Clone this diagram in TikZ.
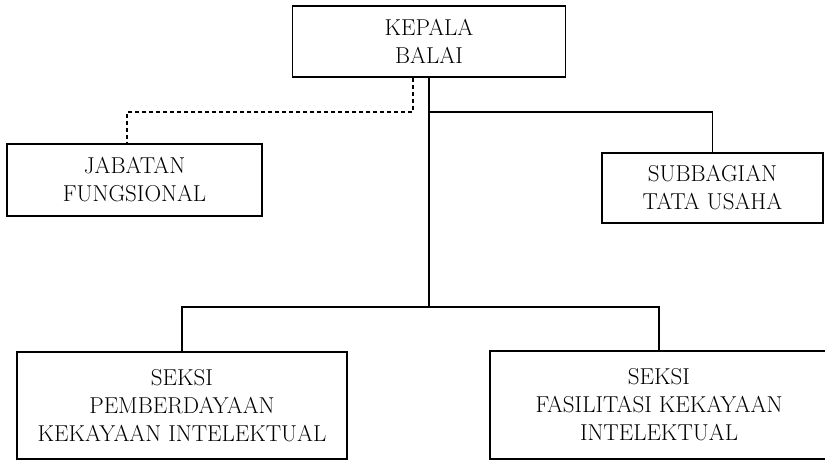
\documentclass[tikz,border=0pt]{standalone}
\usetikzlibrary{calc}
\begin{document}
\begin{tikzpicture}[x=1pt,y=-1pt,line width=1.2pt,line join=miter,
	kotak/.style={draw,align=center,inner sep=0pt,font=\fontsize{23}{28}\selectfont},
	garis putus/.style={dash pattern=on 4pt off 3pt}]
		\useasboundingbox (0,0) rectangle (825,460);
		% kotak-kotak
		\node[kotak,minimum width=273pt,minimum height=71pt] (kepala) at (429,41.5) {KEPALA\\BALAI};
		\node[kotak,minimum width=255pt,minimum height=72pt] (jabatan) at (134.5,180) {JABATAN\\FUNGSIONAL};
		\node[kotak,minimum width=221pt,minimum height=70pt] (subbagian) at (712.5,188) {SUBBAGIAN\\TATA USAHA};
		\node[kotak,minimum width=330pt,minimum height=107pt] (seksiA) at (182,405.5) {SEKSI\\PEMBERDAYAAN\\KEKAYAAN INTELEKTUAL};
		\node[kotak,minimum width=338pt,minimum height=108pt] (seksiB) at (659,405) {SEKSI\\FASILITASI KEKAYAAN\\INTELEKTUAL};
		\coordinate (cabang) at (429,112);
		\coordinate (bawah) at (429,307);
		% garis
		\draw (kepala.south) -- (bawah);
		\draw (cabang) -| (subbagian.north);
		\draw (seksiA.north) |- (bawah) -| (seksiB.north);
		\draw[garis putus] ([xshift=-16pt]kepala.south) -- ([xshift=-16pt]kepala.south |- cabang) -| ([xshift=-7.5pt]jabatan.north);
\end{tikzpicture}
\end{document}
